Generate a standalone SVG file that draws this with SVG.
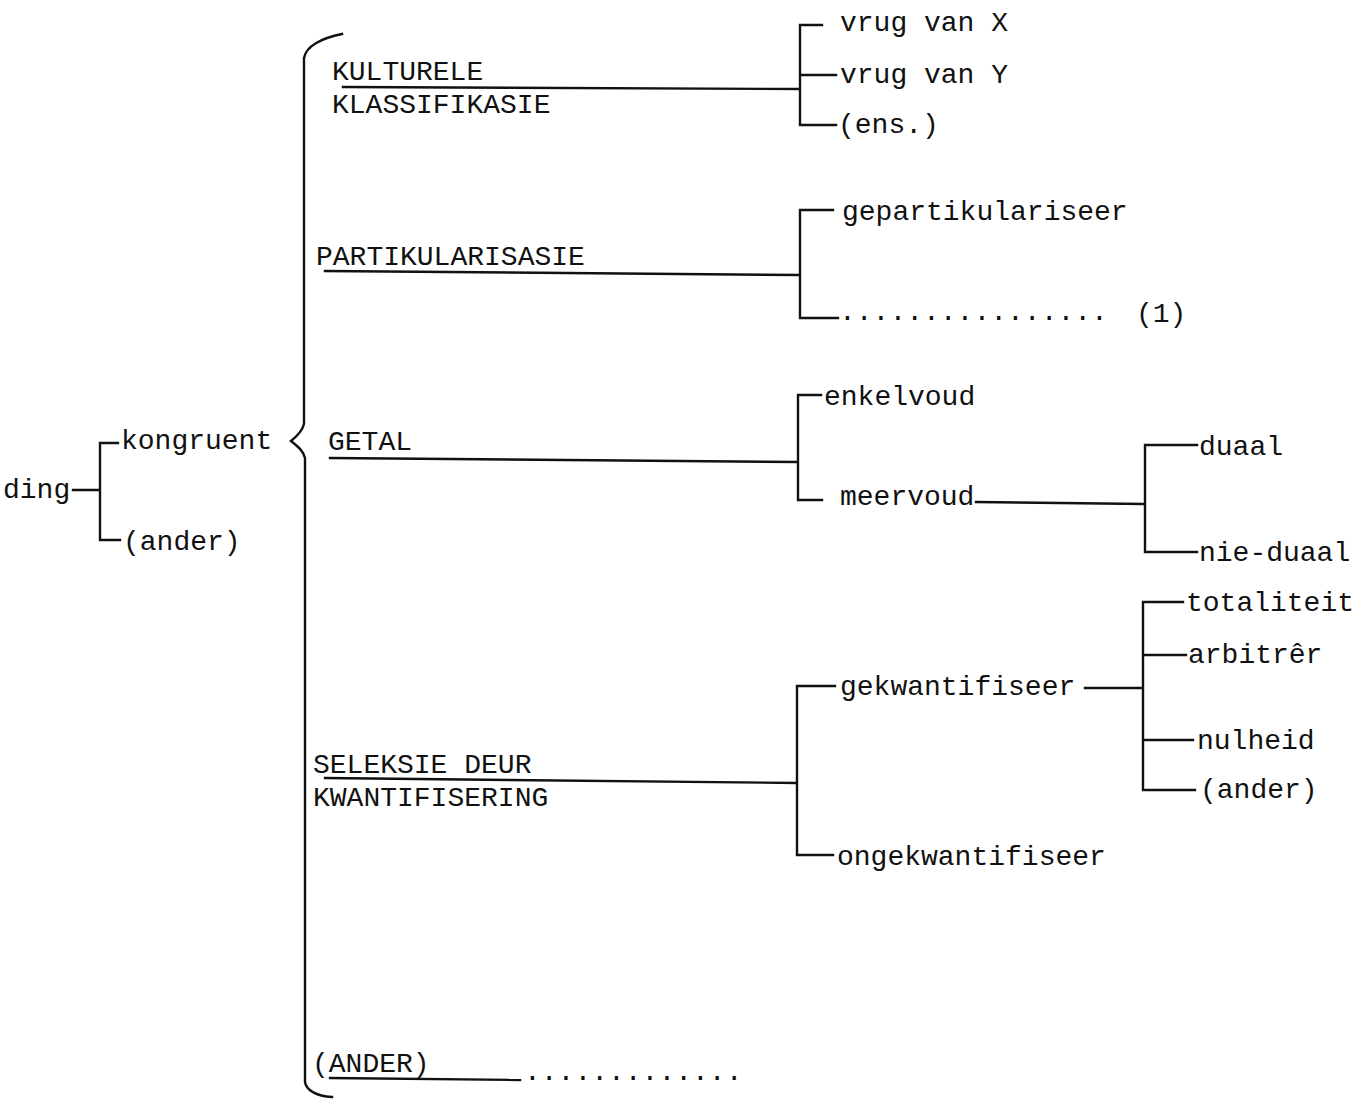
<svg xmlns="http://www.w3.org/2000/svg" width="1372" height="1099" viewBox="0 0 1372 1099">
  <style>
    text { font-family: "Liberation Mono", "DejaVu Sans Mono", monospace; font-size: 28px; fill: #111; }
    .ln { stroke: #111; stroke-width: 2.4; fill: none; stroke-linecap: square; }
  </style>
  <rect width="1372" height="1099" fill="#fff"/>

  <!-- connectors -->
  <g id="connectors">
    <!-- ding fork -->
    <path class="ln" d="M73 490 H100 M100 443 V540 M100 443 H118 M100 540 H120"/>
    <!-- curly brace -->
    <path class="ln" d="M342 34 C322 38 306 46 304 58 V424 C302 432 296 437 291 441 C297 446 303 450 305 458 V1082 C306 1090 316 1096 332 1097"/>
    <!-- KULTURELE KLASSIFIKASIE -->
    <path class="ln" d="M343 87 L800 89 M800 25 V125 M800 25 H822 M800 75 H836 M800 125 H836"/>
    <!-- PARTIKULARISASIE -->
    <path class="ln" d="M325 271 L800 275 M800 210 V318 M800 210 H833 M800 318 H838"/>
    <!-- GETAL -->
    <path class="ln" d="M330 458 L798 462 M798 395 V500 M798 395 H821 M798 500 H822"/>
    <path class="ln" d="M976 502 L1145 504 M1145 445 V552 M1145 445 H1197 M1145 552 H1197"/>
    <!-- SELEKSIE DEUR KWANTIFISERING -->
    <path class="ln" d="M325 778 L797 783 M797 686 V855 M797 686 H835 M797 855 H833"/>
    <path class="ln" d="M1085 688 H1143 M1143 602 V790 M1143 602 H1183 M1143 655 H1186 M1143 740 H1193 M1143 790 H1195"/>
    <!-- (ANDER) -->
    <path class="ln" d="M330 1078 L520 1080"/>
  </g>

  <g id="ding"><text x="3" y="498">ding</text></g>
  <g id="kongruent"><text x="121" y="449">kongruent</text></g>
  <g id="ander-1"><text x="123" y="550">(ander)</text></g>

  <g id="kulturele-klassifikasie">
    <text x="332" y="80">KULTURELE</text>
    <text x="332" y="113">KLASSIFIKASIE</text>
  </g>
  <g id="vrug-x"><text x="840" y="31">vrug van X</text></g>
  <g id="vrug-y"><text x="840" y="83">vrug van Y</text></g>
  <g id="ens"><text x="838" y="133">(ens.)</text></g>

  <g id="partikularisasie"><text x="316" y="265">PARTIKULARISASIE</text></g>
  <g id="gepartikulariseer"><text x="842" y="220">gepartikulariseer</text></g>
  <g id="part-dots">
    <text x="839" y="320">................</text>
    <text x="1136" y="322">(1)</text>
  </g>

  <g id="getal"><text x="328" y="450">GETAL</text></g>
  <g id="enkelvoud"><text x="824" y="405">enkelvoud</text></g>
  <g id="meervoud"><text x="840" y="505">meervoud</text></g>
  <g id="duaal"><text x="1199" y="455">duaal</text></g>
  <g id="nie-duaal"><text x="1199" y="561">nie-duaal</text></g>

  <g id="seleksie">
    <text x="313" y="773">SELEKSIE DEUR</text>
    <text x="313" y="806">KWANTIFISERING</text>
  </g>
  <g id="gekwantifiseer"><text x="840" y="695">gekwantifiseer</text></g>
  <g id="ongekwantifiseer"><text x="837" y="865">ongekwantifiseer</text></g>
  <g id="totaliteit"><text x="1186" y="611">totaliteit</text></g>
  <g id="arbitrer"><text x="1188" y="663">arbitrêr</text></g>
  <g id="nulheid"><text x="1197" y="749">nulheid</text></g>
  <g id="ander-2"><text x="1200" y="798">(ander)</text></g>

  <g id="ander-caps"><text x="312" y="1072">(ANDER)</text></g>
  <g id="ander-dots"><text x="524" y="1080">.............</text></g>
</svg>
